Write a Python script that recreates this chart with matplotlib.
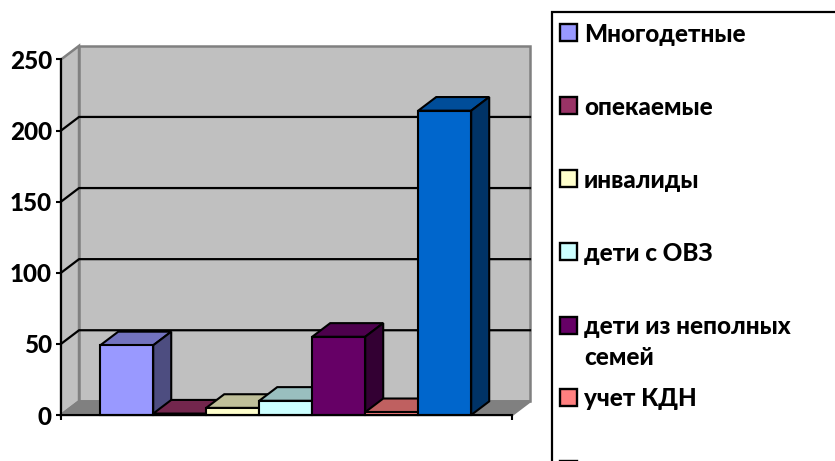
import matplotlib
matplotlib.use("Agg")
import matplotlib.pyplot as plt
from matplotlib.colors import to_rgb
from matplotlib.patches import Polygon, Rectangle

plt.rcParams["font.family"] = ["Lato", "Open Sans", "DejaVu Sans"]

labels = ["Многодетные", "опекаемые", "инвалиды", "дети с ОВЗ",
          "дети из неполных\nсемей", "учет КДН", ""]
values = [49, 1, 5, 10, 55, 2, 214]
colors = ["#9999FF", "#993366", "#FFFFCC", "#CCFFFF", "#660066", "#FF8080", "#0066CC"]
yticks = [0, 50, 100, 150, 200, 250]

W, H = 835, 461


def shade(c, k):
    return tuple(v * k for v in to_rgb(c))


fig = plt.figure(figsize=(W / 100, H / 100), dpi=100)
ax = fig.add_axes([61 / W, 1 - 415 / H, 451 / W, 355.5 / H])
ax.patch.set_visible(False)

# x unit = one bar width
xmin, xmax = -0.74, 7.77
ymax = 250
dx, dy = 0.34, 9.6  # depth of the 3d box
ax.set_xlim(xmin, xmax)
ax.set_ylim(0, ymax)

# walls and floor
wall = dict(facecolor="#C0C0C0", edgecolor="#808080", linewidth=1.8, clip_on=False, zorder=1)
ax.add_patch(Polygon([(xmin, 0), (xmin + dx, dy), (xmin + dx, ymax + dy), (xmin, ymax)], **wall))
ax.add_patch(Polygon([(xmin + dx, dy), (xmax + dx, dy), (xmax + dx, ymax + dy), (xmin + dx, ymax + dy)], **wall))
ax.add_patch(Polygon([(xmin, 0), (xmax, 0), (xmax + dx, dy), (xmin + dx, dy)],
                     facecolor="#808080", edgecolor="#808080", linewidth=1.8, clip_on=False, zorder=1))

# gridlines run along the back wall and slant down the side wall
for t in yticks[1:-1]:
    ax.plot([xmin, xmin + dx, xmax + dx], [t, t + dy, t + dy],
            color="black", linewidth=1.6, clip_on=False, zorder=2)

# bars, left to right so each one covers the side of the one before
for i, (v, c) in enumerate(zip(values, colors)):
    z = 3 + i
    edge = dict(edgecolor="black", linewidth=1.5, clip_on=False, zorder=z, joinstyle="miter")
    ax.add_patch(Polygon([(i, v), (i + 1, v), (i + 1 + dx, v + dy), (i + dx, v + dy)],
                         facecolor=shade(c, 0.75), **edge))
    ax.add_patch(Polygon([(i + 1, 0), (i + 1 + dx, dy), (i + 1 + dx, v + dy), (i + 1, v)],
                         facecolor=shade(c, 0.5), **edge))
    ax.bar(i, v, width=1, align="edge", color=c, **edge)

for s in ["top", "right"]:
    ax.spines[s].set_visible(False)
for s in ["left", "bottom"]:
    ax.spines[s].set_linewidth(1.5)
    ax.spines[s].set_zorder(20)

ax.set_yticks(yticks)
ax.set_xticks([xmin, xmax])
ax.set_xticklabels([])
ax.tick_params(axis="both", length=3.5, width=1.5)
ax.tick_params(axis="y", labelsize=17.5, pad=3)
for t in ax.get_yticklabels():
    t.set_fontweight("black")

# legend box runs off the right and bottom edge of the picture
fig.add_artist(Rectangle((552 / W, 1 - 520 / H), 400 / W, 508 / H, transform=fig.transFigure,
                         facecolor="white", edgecolor="black", linewidth=1.6))
legend_y = [33, 106, 179, 252, 325, 397, 469]
for lab, c, y in zip(labels, colors, legend_y):
    fig.add_artist(Rectangle((560 / W, 1 - (y + 8.5) / H), 17 / W, 17 / H, transform=fig.transFigure,
                             facecolor=c, edgecolor="black", linewidth=1.7))
    if lab:
        fig.text(584 / W, 1 - (y - 10) / H, lab, fontsize=17.5, fontweight="black",
                 va="top", ha="left", linespacing=1.4)

fig.savefig("out.png", dpi=100)
